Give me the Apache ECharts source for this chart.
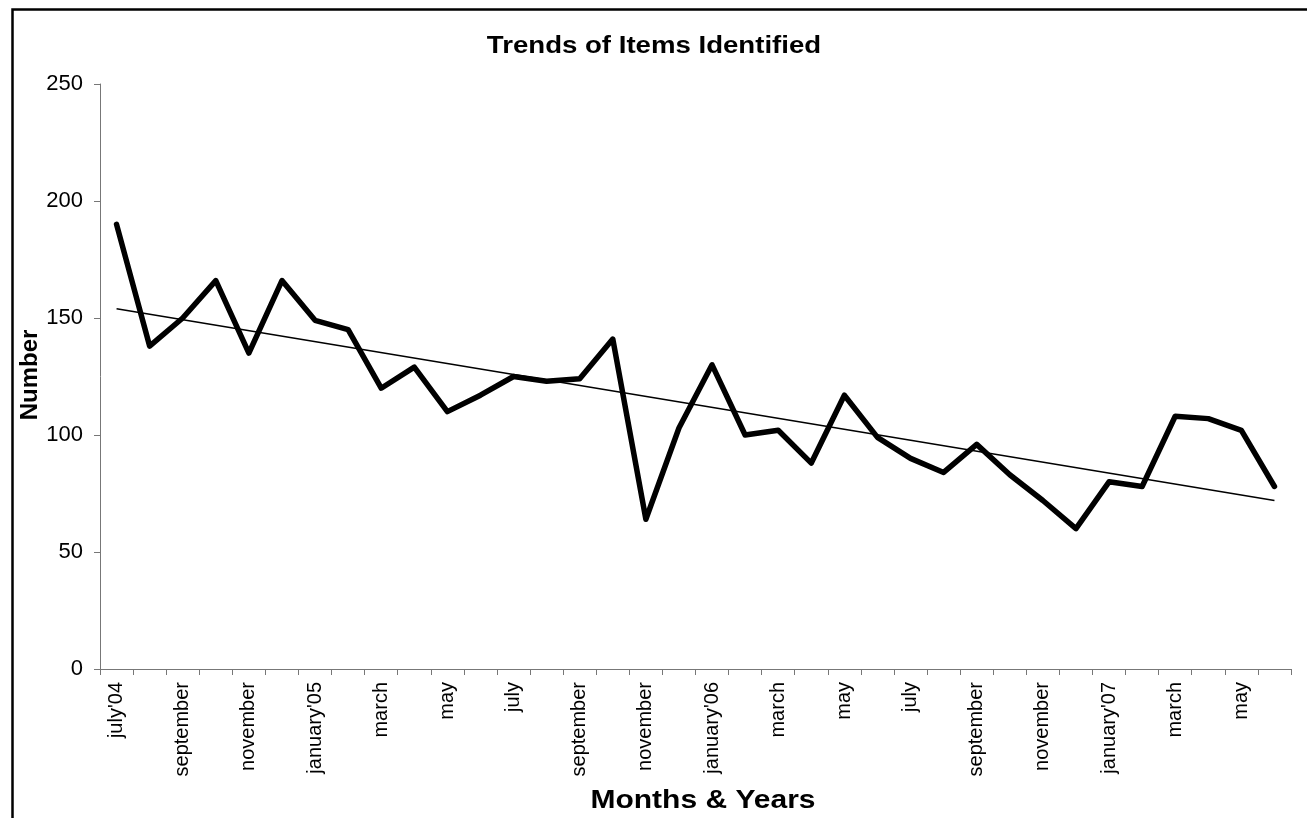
<!DOCTYPE html>
<html>
<head>
<meta charset="utf-8">
<script src="https://cdn.jsdelivr.net/npm/echarts@6/dist/echarts.min.js"></script>
<style>
  html, body { margin: 0; padding: 0; background: #fff; }
  #main { width: 1307px; height: 818px; }
</style>
</head>
<body>
<div id="main"></div>
<script>
// months july'04 .. june'07
var months = [
  "july'04", "august", "september", "october", "november", "december",
  "january'05", "february", "march", "april", "may", "june",
  "july", "august", "september", "october", "november", "december",
  "january'06", "february", "march", "april", "may", "june",
  "july", "august", "september", "october", "november", "december",
  "january'07", "february", "march", "april", "may", "june"
];

var items = [
  190, 138, 150, 166, 135, 166,
  149, 145, 120, 129, 110, 117,
  125, 123, 124, 141, 64, 103,
  130, 100, 102, 88, 117, 99,
  90, 84, 96, 83, 72, 60,
  80, 78, 108, 107, 102, 78
];

// linear trend, read at first and last month
var trendEnds = [154, 72];

var yTicks = [0, 50, 100, 150, 200, 250];

var font = "'Liberation Sans', Arial, sans-serif";

var myChart = echarts.init(document.getElementById("main"));

var option = {
  backgroundColor: "#fff",
  animation: false,
  grid: { left: 100, right: 16, top: 84, bottom: 149 },
  xAxis: {
    type: "category",
    data: months,
    boundaryGap: true,
    axisLine: { lineStyle: { color: "#777", width: 1 } },
    axisTick: { show: true, interval: 0, length: 6, lineStyle: { color: "#777" } },
    axisLabel: {
      interval: 1,
      rotate: 90,
      margin: 13,
      fontFamily: font,
      fontSize: 20,
      color: "#000"
    },
    splitLine: { show: false }
  },
  yAxis: {
    type: "value",
    min: yTicks[0],
    max: yTicks[yTicks.length - 1],
    interval: 50,
    axisLine: { show: true, lineStyle: { color: "#777", width: 1 } },
    axisTick: { show: true, length: 6, lineStyle: { color: "#777" } },
    axisLabel: { fontFamily: font, fontSize: 22, color: "#000", margin: 17 },
    splitLine: { show: false }
  },
  series: [
    {
      name: "Items",
      type: "line",
      data: items,
      symbol: "none",
      lineStyle: { color: "#000", width: 5.5, join: "round", cap: "round" }
    },
    {
      name: "Trend",
      type: "line",
      data: [[0, trendEnds[0]], [months.length - 1, trendEnds[1]]],
      symbol: "none",
      lineStyle: { color: "#000", width: 1.5 }
    }
  ],
  graphic: [
    {
      type: "rect",
      left: 10,
      top: 7,
      shape: { width: 1296, height: 820 },
      style: { fill: "none", stroke: "#000", lineWidth: 2.5 },
      silent: true
    },
    {
      type: "text",
      x: 654,
      y: 47,
      scaleX: 1.2,
      style: {
        text: "Trends of Items Identified",
        font: "bold 23px " + font,
        fill: "#000",
        textAlign: "center",
        textVerticalAlign: "middle"
      }
    },
    {
      type: "text",
      x: 703,
      y: 801,
      scaleX: 1.2,
      style: {
        text: "Months & Years",
        font: "bold 25px " + font,
        fill: "#000",
        textAlign: "center",
        textVerticalAlign: "middle"
      }
    },
    {
      type: "text",
      x: 30,
      y: 375,
      rotation: Math.PI / 2,
      style: {
        text: "Number",
        font: "bold 24px " + font,
        fill: "#000",
        textAlign: "center",
        textVerticalAlign: "middle"
      }
    }
  ]
};

myChart.setOption(option);
</script>
</body>
</html>
